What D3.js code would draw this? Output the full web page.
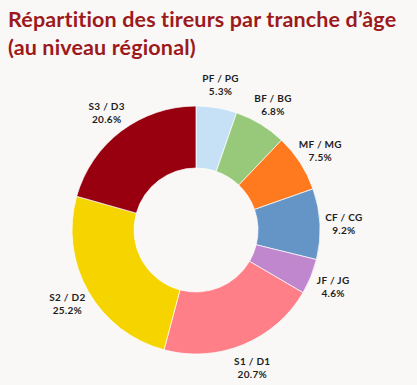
<!DOCTYPE html>
<html>
<head>
<meta charset="utf-8">
<script src="https://cdn.jsdelivr.net/npm/d3@7"></script>
<style>
  body { margin: 0; background: #f9f8f6; }
  svg { display: block; }
</style>
</head>
<body>
<svg width="417" height="385"></svg>
<script>
const categories = ['PF / PG', 'BF / BG', 'MF / MG', 'CF / CG', 'JF / JG', 'S1 / D1', 'S2 / D2', 'S3 / D3'];
const shares = [5.3, 6.8, 7.5, 9.2, 4.6, 20.7, 25.2, 20.6];
const colors = ['#c6e1f6', '#98c97a', '#ff7a1e', '#6595c6', '#c087cf', '#ff7f88', '#f6d400', '#99000f'];
const titleLines = ['Répartition des tireurs par tranche d’âge', '(au niveau régional)'];

const WIDTH = 417, HEIGHT = 385;
const cx = 196, cy = 230, outerR = 124, innerR = 62, labelR = 148;

const svg = d3.select('svg');

svg.append('rect').attr('width', WIDTH).attr('height', HEIGHT).attr('fill', '#f9f8f6');

// title
svg.append('g').selectAll('text')
  .data(titleLines)
  .enter().append('text')
  .attr('x', 8)
  .attr('y', (d, i) => 27 + i * 28)
  .attr('fill', '#9c1a1c')
  .style('font-family', 'Lato, sans-serif')
  .style('font-weight', 'bold')
  .style('font-size', '21.5px')
  .style('letter-spacing', '0.15px')
  .text(d => d);

const data = categories.map((c, i) => ({ name: c, value: shares[i], color: colors[i] }));

const pie = d3.pie().value(d => d.value).sort(null);
const arc = d3.arc().innerRadius(innerR).outerRadius(outerR);
const labelArc = d3.arc().innerRadius(labelR).outerRadius(labelR);

const g = svg.append('g').attr('transform', 'translate(' + cx + ',' + cy + ')');

g.selectAll('path')
  .data(pie(data))
  .enter().append('path')
  .attr('d', arc)
  .attr('fill', d => d.data.color)
  .attr('stroke', '#ffffff')
  .attr('stroke-width', 0.7);

const labels = g.selectAll('g.lbl')
  .data(pie(data))
  .enter().append('g')
  .attr('class', 'lbl')
  .attr('transform', d => 'translate(' + labelArc.centroid(d) + ')')
  .style('font-family', 'Lato, sans-serif')
  .style('font-weight', 'bold')
  .style('font-size', '10px')
  .style('letter-spacing', '0.3px')
  .attr('fill', '#1e1e1e')
  .attr('text-anchor', 'middle');

labels.append('text').attr('y', -2).text(d => d.data.name);
labels.append('text').attr('y', 11).text(d => d.data.value.toFixed(1) + '%');
</script>
</body>
</html>
